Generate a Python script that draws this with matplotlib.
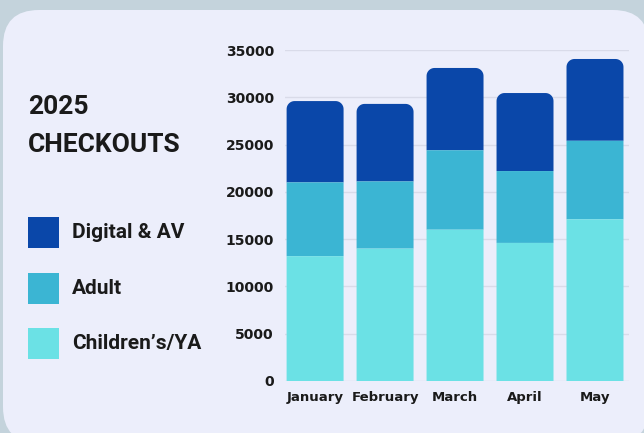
import matplotlib
matplotlib.use('Agg')
import numpy as np
from matplotlib import pyplot as plt
from matplotlib.patches import FancyBboxPatch, Rectangle, Polygon

months = ['January', 'February', 'March', 'April', 'May']
children = [13200, 14000, 16000, 14600, 17100]
adult = [7800, 7100, 8400, 7600, 8300]
digital = [8600, 8200, 8700, 8250, 8650]
yticks = [0, 5000, 10000, 15000, 20000, 25000, 30000, 35000]

c_digital = '#0a47a9'
c_adult = '#3bb5d3'
c_child = '#6be1e5'
card_bg = '#eceefb'
outer_bg = '#c4d3dc'

W, H = 644, 433
fig = plt.figure(figsize=(W/100, H/100), dpi=100)
fig.patch.set_facecolor(outer_bg)

# rounded card behind everything
card = FancyBboxPatch((3/W, -10/H), (W + 2)/W, (H)/H,
                      boxstyle='round,pad=0,rounding_size=%f' % (36/W),
                      mutation_aspect=W/H, transform=fig.transFigure,
                      facecolor=card_bg, edgecolor='none', zorder=-10)
fig.patches.append(card)

ax = fig.add_axes([285/W, 52/H, 344/W, 331/H])
ax.set_zorder(5)
ax.set_facecolor('none')

x = list(range(len(months)))
bw = 0.814
mid = [c + a for c, a in zip(children, adult)]
totals = [m + d for m, d in zip(mid, digital)]


def top_rounded(left, right, bottom, top, rx, ry, n=12):
    # outline of a bar whose two top corners are rounded
    t = np.linspace(np.pi, np.pi/2, n)
    left_arc = [(left + rx + rx*np.cos(a), top - ry + ry*np.sin(a)) for a in t]
    t = np.linspace(np.pi/2, 0, n)
    right_arc = [(right - rx + rx*np.cos(a), top - ry + ry*np.sin(a)) for a in t]
    return [(left, bottom)] + left_arc + right_arc + [(right, bottom)]


# radius of about 8 px, turned into data units
rx = 8 / 70
ry = 8 * 35000 / 331
for xi, m, t in zip(x, mid, totals):
    pts = top_rounded(xi - bw/2, xi + bw/2, m, t, rx, ry)
    ax.add_patch(Polygon(pts, closed=True, facecolor=c_digital,
                         edgecolor='none', zorder=3))
ax.bar(x, adult, bw, bottom=children, color=c_adult, zorder=3, snap=False)
ax.bar(x, children, bw, color=c_child, zorder=3, snap=False)

ax.set_xlim(-0.43, 4.486)
ax.set_ylim(0, 35000)
ax.set_yticks(yticks)
ax.set_yticklabels([str(v) for v in yticks], fontsize=10, fontweight='bold',
                   family='DejaVu Sans', color='#1a1a1a')
ax.set_xticks(x)
ax.set_xticklabels(months, fontsize=9.5, fontweight='bold',
                   family='DejaVu Sans', color='#1a1a1a')
ax.tick_params(axis='both', length=0)
ax.tick_params(axis='y', pad=8)
ax.tick_params(axis='x', pad=7)
ax.grid(axis='y', color='#d9dbe9', linewidth=1, zorder=1)
ax.set_axisbelow(True)
for s in ax.spines.values():
    s.set_visible(False)

# title
fig.text(28/W, 1 - 114/H, '2025', fontsize=19, fontweight='bold',
         family='Roboto', color='#1a1a1a', va='baseline')
fig.text(28/W, 1 - 152/H, 'CHECKOUTS', fontsize=19, fontweight='bold',
         family='Roboto', color='#1a1a1a', va='baseline')

# legend
for label, col, ytop in [('Digital & AV', c_digital, 217),
                         ('Adult', c_adult, 273),
                         ("Children\u2019s/YA", c_child, 328)]:
    fig.patches.append(Rectangle((28/W, 1 - (ytop + 31)/H), 31/W, 31/H,
                                 transform=fig.transFigure, facecolor=col,
                                 edgecolor='none', zorder=1))
    fig.text(72/W, 1 - (ytop + 15.5)/H, label, fontsize=15, fontweight='bold',
             family='Roboto', color='#1a1a1a', va='center')

plt.savefig('out.png', dpi=100, facecolor=fig.get_facecolor())
